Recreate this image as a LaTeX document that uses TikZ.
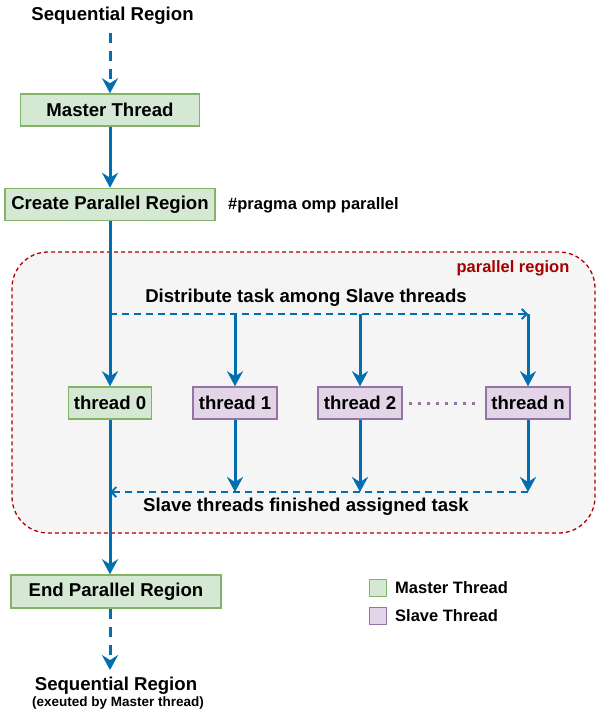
\documentclass[tikz,border=0pt]{standalone}
\usepackage{fontspec}
\setmainfont{Liberation Sans}
\usetikzlibrary{arrows.meta}
\definecolor{flowblue}{HTML}{006EAF}
\definecolor{mfill}{HTML}{D5E8D4}
\definecolor{mline}{HTML}{82B366}
\definecolor{sfill}{HTML}{E1D5E7}
\definecolor{sline}{HTML}{9673A6}
\definecolor{regfill}{HTML}{F5F5F5}
\definecolor{regline}{HTML}{B20000}
\definecolor{regtext}{HTML}{A50000}
\begin{document}
\begin{tikzpicture}[x=1pt,y=-1pt,
  big/.style={font=\fontsize{18.6}{22}\selectfont\bfseries, inner sep=0pt},
  mid/.style={font=\fontsize{16.5}{20}\selectfont\bfseries, inner sep=0pt},
  small/.style={font=\fontsize{13.5}{16}\selectfont\bfseries, inner sep=0pt},
  mbox/.style={big, draw=mline, fill=mfill, line width=1.5pt, minimum height=32pt},
  sbox/.style={big, draw=sline, fill=sfill, line width=1.5pt, minimum height=32pt},
  keybox/.style={line width=1.5pt, minimum size=17pt, inner sep=0pt},
  flow/.style={draw=flowblue, line width=3pt, -{Stealth[length=15pt,width=16pt,inset=5pt]}},
  dflow/.style={flow, dash pattern=on 10pt off 8pt},
  task/.style={draw=flowblue, line width=1.8pt, dash pattern=on 7pt off 5pt,
    -{Straight Barb[length=5pt,width=10pt]}},
  region/.style={draw=regline, fill=regfill, line width=1.3pt,
    dash pattern=on 4pt off 3pt, rounded corners=36pt, inner sep=0pt},
]
\useasboundingbox (0,0) rectangle (597,712);

% parallel region background
\node[region, minimum width=583pt, minimum height=281pt] (par) at (303.5,392.5) {};
\node[mid, text=regtext] (parlabel) at (513,268) {parallel region};

% sequential part before the fork
\node[big] (seqtop) at (112.5,16) {Sequential Region};
\node[mbox, minimum width=179pt] (master) at (110,110) {Master Thread};
\node[mbox, minimum width=210pt] (create) at (110,204.5) {Create Parallel Region};
\node[mid, anchor=west] (pragma) at (228,205) {\#pragma omp parallel};

% team of threads
\node[big] (distlabel) at (306,298) {Distribute task among Slave threads};
\node[mbox, minimum width=83pt] (t0) at (110,403) {thread 0};
\node[sbox, minimum width=84pt] (t1) at (235,403) {thread 1};
\node[sbox, minimum width=84pt] (t2) at (360,403) {thread 2};
\node[sbox, minimum width=84pt] (tn) at (528,403) {thread n};
\node[big] (joinlabel) at (306,507) {Slave threads finished assigned task};

\coordinate (fork) at (110,314);
\coordinate (forkn) at (528,314);
\coordinate (join) at (110,492);
\coordinate (joinn) at (528,492);

% join and sequential part after it
\node[mbox, minimum width=210pt, minimum height=33pt] (endpr) at (116,591.5) {End Parallel Region};
\node[big] (seqbot) at (116,686) {Sequential Region};
\node[small] (seqnote) at (118,703) {(exeuted by Master thread)};

% legend
\node[keybox, draw=mline, fill=mfill] (keym) at (378,588) {};
\node[mid, anchor=west] (keymtext) at (395,588) {Master Thread};
\node[keybox, draw=sline, fill=sfill] (keys) at (378,616) {};
\node[mid, anchor=west] (keystext) at (395,616) {Slave Thread};

% connectors
\draw[dflow, shorten <=8pt] (master |- seqtop.south) -- (master);
\draw[flow] (master) -- (create);
\draw[flow] (create) -- (t0);
\draw[task] (fork) -- (forkn);
\draw[flow] (t1 |- fork) -- (t1);
\draw[flow] (t2 |- fork) -- (t2);
\draw[flow] (forkn) -- (tn);
\draw[draw=sline, line width=3pt, dash pattern=on 3pt off 6pt, shorten <=6pt, shorten >=6pt] (t2) -- (tn);
\draw[flow] (t1) -- (t1 |- join);
\draw[flow] (t2) -- (t2 |- join);
\draw[flow] (tn) -- (joinn);
\draw[task] (joinn) -- (join);
\draw[flow] (t0.south) -- (t0.south |- endpr.north);
\draw[dflow] (t0.south |- endpr.south) -- ([yshift=7pt]t0.south |- seqbot.north);
\end{tikzpicture}
\end{document}
